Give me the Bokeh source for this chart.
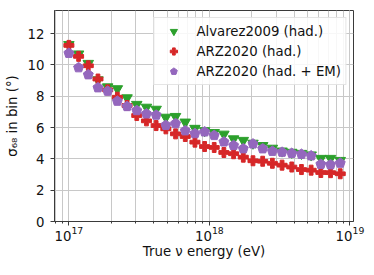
from bokeh.plotting import figure
from bokeh.models import Range1d, Legend, LegendItem, FixedTicker, ColumnDataSource
from bokeh.embed import file_html
from bokeh.resources import INLINE

# log10 of true neutrino energy (eV) for each bin
log_energy = [17.000, 17.069, 17.138, 17.207, 17.276, 17.345, 17.414, 17.483,
              17.552, 17.621, 17.690, 17.759, 17.828, 17.897, 17.966, 18.034,
              18.103, 18.172, 18.241, 18.310, 18.379, 18.448, 18.517, 18.586,
              18.655, 18.724, 18.793, 18.862, 18.931]

alvarez2009_had = [11.30, 10.70, 10.10, 9.05, 8.60, 8.48, 7.90, 7.48,
                   7.30, 7.17, 6.66, 6.71, 6.35, 5.95, 5.80, 5.68,
                   5.58, 5.28, 5.18, 5.00, 4.85, 4.68, 4.50, 4.42,
                   4.35, 4.25, 4.03, 4.03, 3.90]

arz2020_had = [11.25, 10.55, 9.95, 9.10, 8.41, 7.94, 7.41, 6.77,
               6.43, 6.13, 5.92, 5.60, 5.43, 5.07, 4.79, 4.73,
               4.41, 4.33, 4.11, 3.88, 3.85, 3.72, 3.60, 3.48,
               3.32, 3.28, 3.13, 3.12, 3.05]

arz2020_had_em = [10.75, 9.83, 9.38, 8.55, 8.33, 7.69, 7.35, 7.09,
                  6.88, 6.80, 6.15, 6.26, 5.80, 5.62, 5.73, 5.50,
                  5.09, 4.86, 4.65, 4.96, 4.65, 4.49, 4.43, 4.36,
                  4.30, 4.20, 3.66, 3.63, 3.73]

series_labels = ["Alvarez2009 (had.)", "ARZ2020 (had.)", "ARZ2020 (had. + EM)"]
y_ticks = [0, 2, 4, 6, 8, 10, 12]

energy = [10 ** v for v in log_energy]
src = ColumnDataSource(dict(x=energy, a=alvarez2009_had, b=arz2020_had, c=arz2020_had_em))

FONT = "DejaVu Sans"
FS = "13.3px"

p = figure(frame_width=299, frame_height=211, x_axis_type="log", output_backend="svg",
           toolbar_location=None,
           x_range=Range1d(7.9e16, 1.06e19), y_range=Range1d(0, 13.48),
           min_border_left=54, min_border_right=17, min_border_top=10,
           min_border_bottom=48)

p.background_fill_color = "white"
p.outline_line_color = "#3a3a3a"
p.outline_line_width = 1

for ax in (p.xaxis, p.yaxis):
    ax.axis_line_color = "#3a3a3a"
    ax.major_tick_line_color = "#3a3a3a"
    ax.minor_tick_line_color = "#3a3a3a"
    ax.major_tick_out = 4
    ax.major_tick_in = 0
    ax.minor_tick_out = 2
    ax.minor_tick_in = 0
    ax.major_label_text_font = FONT
    ax.major_label_text_font_size = FS
    ax.major_label_text_color = "#111111"
    ax.axis_label_text_font = FONT
    ax.axis_label_text_font_size = FS
    ax.axis_label_text_font_style = "normal"
    ax.axis_label_text_color = "#111111"

p.yaxis.ticker = FixedTicker(ticks=y_ticks)
p.yaxis.minor_tick_line_color = None
p.xaxis.axis_label = "True \u03bd energy (eV)"
p.yaxis.axis_label = "\u03c3\u2086\u2088 in bin (\u00b0)"
p.xaxis.major_label_standoff = 0
p.yaxis.major_label_standoff = 6
p.xaxis.axis_label_standoff = 0
p.yaxis.axis_label_standoff = 5

p.xgrid.grid_line_color = "#c8c8c8"
p.xgrid.minor_grid_line_color = "#c8c8c8"
p.ygrid.grid_line_color = "#c8c8c8"

r1 = p.scatter("x", "a", source=src, marker="inverted_triangle", size=10.5,
               fill_color="#2ca02c", line_color="#2ca02c")
r2 = p.scatter("x", "b", source=src, marker="plus", size=10,
               fill_color="#d62728", line_color="#d62728")
r3 = p.ngon(x="x", y="c", source=src, radius=5.2, radius_units="screen", n=5,
            fill_color="#9467bd", line_color="#9467bd")

legend = Legend(items=[LegendItem(label=series_labels[0], renderers=[r1]),
                       LegendItem(label=series_labels[1], renderers=[r2]),
                       LegendItem(label=series_labels[2], renderers=[r3])],
                location="top_right", margin=7, padding=4, spacing=2,
                glyph_width=30, glyph_height=18, label_height=18,
                label_standoff=8, label_text_font=FONT, label_text_font_size=FS,
                label_text_color="#111111",
                border_line_color="#cccccc", background_fill_alpha=0.85)
p.add_layout(legend)

open("out.html", "w").write(file_html(p, INLINE))
